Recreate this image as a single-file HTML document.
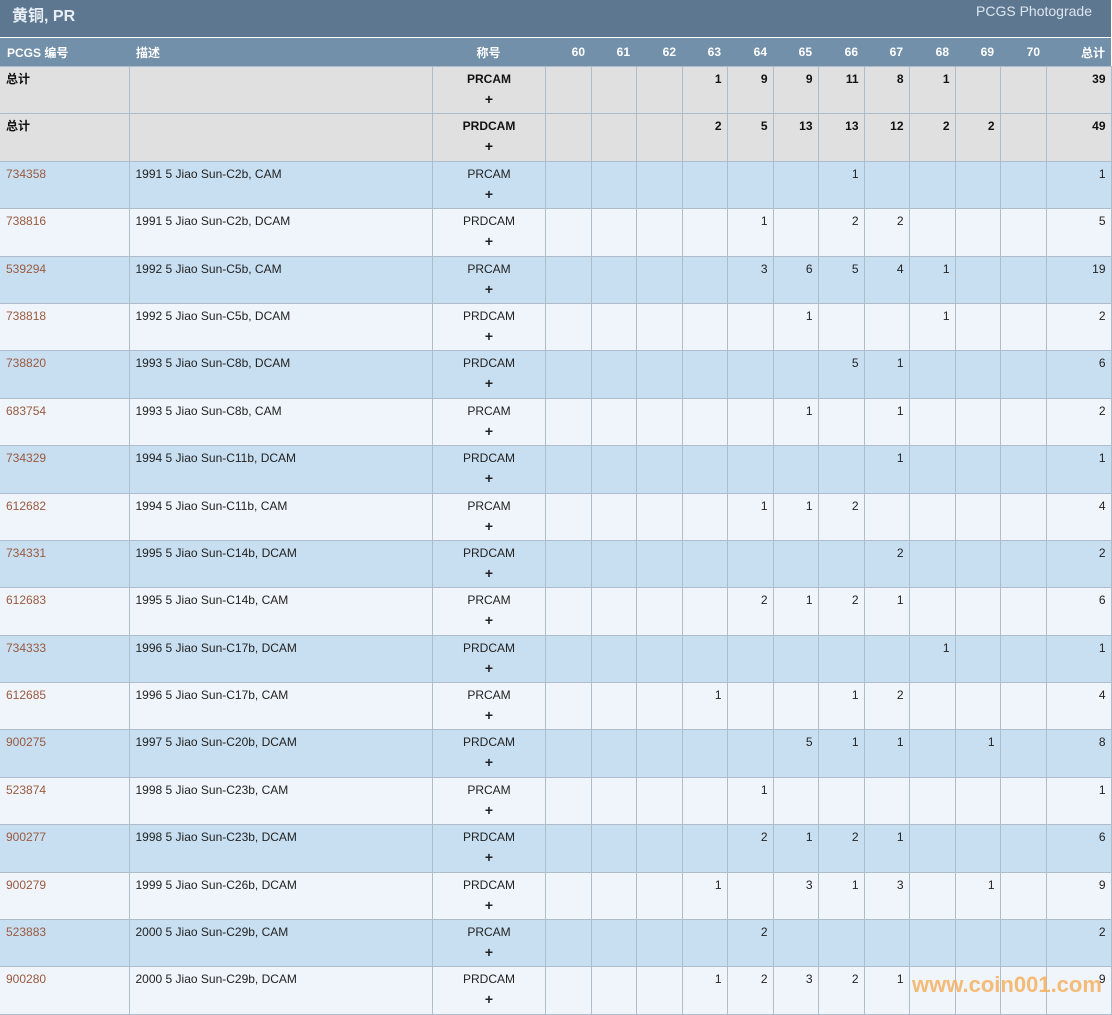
<!DOCTYPE html>
<html><head><meta charset="utf-8"><style>
body{margin:0;width:1112px;height:1014px;overflow:hidden;background:#fff;font-family:"Liberation Sans","Noto Sans CJK SC",sans-serif;font-size:12px;color:#222}
.title{position:absolute;left:0;top:0;width:1111px;height:37px;background:#5d7791;color:#e8eef4}
.title .l{position:absolute;left:12px;top:2px;font-size:16px;font-weight:bold}
.title .r{position:absolute;right:19px;top:3px;font-size:14px;color:#dce6ef}
table{position:absolute;left:0;top:38px;border-collapse:collapse;table-layout:fixed;width:1111px}
th{background:#7290aa;color:#fff;height:28px;font-size:12px;font-weight:bold;text-align:right;padding:0 6px 0 0;border:none}
td{border:1px solid #aebdcc;height:47.4px;padding:5px 5px 0 6px;vertical-align:top;text-align:right;line-height:14px;box-sizing:border-box}
td:first-child{border-left:none}
tr.t td{background:#e0e0e1;font-weight:bold;color:#111}
tr.a td{background:#c8dff1}
tr.b td{background:#eff5fa}
td.c,td.d{text-align:left}
td.c{color:#9a5a40}
td.g{text-align:center}
td.g span{display:block;margin-top:6px;font-weight:bold;font-size:14px}
.wm{position:absolute;left:912px;top:972px;font-size:22px;font-weight:bold;color:#f5b060;opacity:.85;font-family:"Liberation Sans",sans-serif}
</style></head><body>
<div class="title"><span class="l">黄铜, PR</span><span class="r">PCGS Photograde</span></div>
<table>
<colgroup><col style="width:129px"><col style="width:303px"><col style="width:113px"><col style="width:46px"><col style="width:45px"><col style="width:46px"><col style="width:45px"><col style="width:46px"><col style="width:45px"><col style="width:46px"><col style="width:45px"><col style="width:46px"><col style="width:45px"><col style="width:46px"><col style="width:65px"></colgroup>
<tr><th style="text-align:left;padding-left:7px">PCGS 编号</th><th style="text-align:left;padding-left:7px">描述</th><th style="text-align:center;padding:0 0 0 0">称号</th><th>60</th><th>61</th><th>62</th><th>63</th><th>64</th><th>65</th><th>66</th><th>67</th><th>68</th><th>69</th><th>70</th><th>总计</th></tr>
<tr class="t"><td class="d">总计</td><td></td><td class="g">PRCAM<span>+</span></td><td></td><td></td><td></td><td>1</td><td>9</td><td>9</td><td>11</td><td>8</td><td>1</td><td></td><td></td><td>39</td></tr>
<tr class="t"><td class="d">总计</td><td></td><td class="g">PRDCAM<span>+</span></td><td></td><td></td><td></td><td>2</td><td>5</td><td>13</td><td>13</td><td>12</td><td>2</td><td>2</td><td></td><td>49</td></tr>
<tr class="a"><td class="c">734358</td><td class="d">1991 5 Jiao Sun-C2b, CAM</td><td class="g">PRCAM<span>+</span></td><td></td><td></td><td></td><td></td><td></td><td></td><td>1</td><td></td><td></td><td></td><td></td><td>1</td></tr>
<tr class="b"><td class="c">738816</td><td class="d">1991 5 Jiao Sun-C2b, DCAM</td><td class="g">PRDCAM<span>+</span></td><td></td><td></td><td></td><td></td><td>1</td><td></td><td>2</td><td>2</td><td></td><td></td><td></td><td>5</td></tr>
<tr class="a"><td class="c">539294</td><td class="d">1992 5 Jiao Sun-C5b, CAM</td><td class="g">PRCAM<span>+</span></td><td></td><td></td><td></td><td></td><td>3</td><td>6</td><td>5</td><td>4</td><td>1</td><td></td><td></td><td>19</td></tr>
<tr class="b"><td class="c">738818</td><td class="d">1992 5 Jiao Sun-C5b, DCAM</td><td class="g">PRDCAM<span>+</span></td><td></td><td></td><td></td><td></td><td></td><td>1</td><td></td><td></td><td>1</td><td></td><td></td><td>2</td></tr>
<tr class="a"><td class="c">738820</td><td class="d">1993 5 Jiao Sun-C8b, DCAM</td><td class="g">PRDCAM<span>+</span></td><td></td><td></td><td></td><td></td><td></td><td></td><td>5</td><td>1</td><td></td><td></td><td></td><td>6</td></tr>
<tr class="b"><td class="c">683754</td><td class="d">1993 5 Jiao Sun-C8b, CAM</td><td class="g">PRCAM<span>+</span></td><td></td><td></td><td></td><td></td><td></td><td>1</td><td></td><td>1</td><td></td><td></td><td></td><td>2</td></tr>
<tr class="a"><td class="c">734329</td><td class="d">1994 5 Jiao Sun-C11b, DCAM</td><td class="g">PRDCAM<span>+</span></td><td></td><td></td><td></td><td></td><td></td><td></td><td></td><td>1</td><td></td><td></td><td></td><td>1</td></tr>
<tr class="b"><td class="c">612682</td><td class="d">1994 5 Jiao Sun-C11b, CAM</td><td class="g">PRCAM<span>+</span></td><td></td><td></td><td></td><td></td><td>1</td><td>1</td><td>2</td><td></td><td></td><td></td><td></td><td>4</td></tr>
<tr class="a"><td class="c">734331</td><td class="d">1995 5 Jiao Sun-C14b, DCAM</td><td class="g">PRDCAM<span>+</span></td><td></td><td></td><td></td><td></td><td></td><td></td><td></td><td>2</td><td></td><td></td><td></td><td>2</td></tr>
<tr class="b"><td class="c">612683</td><td class="d">1995 5 Jiao Sun-C14b, CAM</td><td class="g">PRCAM<span>+</span></td><td></td><td></td><td></td><td></td><td>2</td><td>1</td><td>2</td><td>1</td><td></td><td></td><td></td><td>6</td></tr>
<tr class="a"><td class="c">734333</td><td class="d">1996 5 Jiao Sun-C17b, DCAM</td><td class="g">PRDCAM<span>+</span></td><td></td><td></td><td></td><td></td><td></td><td></td><td></td><td></td><td>1</td><td></td><td></td><td>1</td></tr>
<tr class="b"><td class="c">612685</td><td class="d">1996 5 Jiao Sun-C17b, CAM</td><td class="g">PRCAM<span>+</span></td><td></td><td></td><td></td><td>1</td><td></td><td></td><td>1</td><td>2</td><td></td><td></td><td></td><td>4</td></tr>
<tr class="a"><td class="c">900275</td><td class="d">1997 5 Jiao Sun-C20b, DCAM</td><td class="g">PRDCAM<span>+</span></td><td></td><td></td><td></td><td></td><td></td><td>5</td><td>1</td><td>1</td><td></td><td>1</td><td></td><td>8</td></tr>
<tr class="b"><td class="c">523874</td><td class="d">1998 5 Jiao Sun-C23b, CAM</td><td class="g">PRCAM<span>+</span></td><td></td><td></td><td></td><td></td><td>1</td><td></td><td></td><td></td><td></td><td></td><td></td><td>1</td></tr>
<tr class="a"><td class="c">900277</td><td class="d">1998 5 Jiao Sun-C23b, DCAM</td><td class="g">PRDCAM<span>+</span></td><td></td><td></td><td></td><td></td><td>2</td><td>1</td><td>2</td><td>1</td><td></td><td></td><td></td><td>6</td></tr>
<tr class="b"><td class="c">900279</td><td class="d">1999 5 Jiao Sun-C26b, DCAM</td><td class="g">PRDCAM<span>+</span></td><td></td><td></td><td></td><td>1</td><td></td><td>3</td><td>1</td><td>3</td><td></td><td>1</td><td></td><td>9</td></tr>
<tr class="a"><td class="c">523883</td><td class="d">2000 5 Jiao Sun-C29b, CAM</td><td class="g">PRCAM<span>+</span></td><td></td><td></td><td></td><td></td><td>2</td><td></td><td></td><td></td><td></td><td></td><td></td><td>2</td></tr>
<tr class="b"><td class="c">900280</td><td class="d">2000 5 Jiao Sun-C29b, DCAM</td><td class="g">PRDCAM<span>+</span></td><td></td><td></td><td></td><td>1</td><td>2</td><td>3</td><td>2</td><td>1</td><td></td><td></td><td></td><td>9</td></tr>
</table>
<div class="wm">www.coin001.com</div>
</body></html>
